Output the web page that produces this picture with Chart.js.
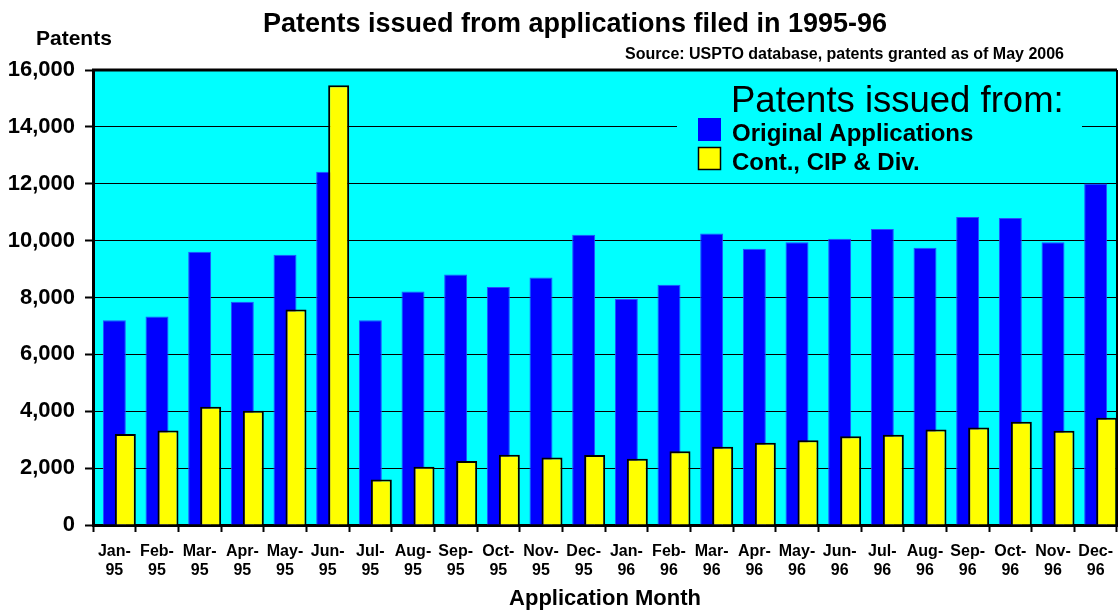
<!DOCTYPE html>
<html>
<head>
<meta charset="utf-8">
<script src="https://cdn.jsdelivr.net/npm/chart.js@4/dist/chart.umd.min.js"></script>
<style>
  html, body { margin: 0; padding: 0; background: #fff; }
  #wrap { width: 1118px; height: 610px; position: relative; }
</style>
</head>
<body>
<div id="wrap"><canvas id="myChart" width="1118" height="610"></canvas></div>
<script>
const months = ['Jan-95', 'Feb-95', 'Mar-95', 'Apr-95', 'May-95', 'Jun-95', 'Jul-95', 'Aug-95',
  'Sep-95', 'Oct-95', 'Nov-95', 'Dec-95', 'Jan-96', 'Feb-96', 'Mar-96', 'Apr-96',
  'May-96', 'Jun-96', 'Jul-96', 'Aug-96', 'Sep-96', 'Oct-96', 'Nov-96', 'Dec-96'];
const originalApps = [7200, 7330, 9610, 7850, 9500, 12420, 7200, 8210, 8810, 8370, 8700, 10210,
  7950, 8450, 10250, 9710, 9940, 10070, 10410, 9750, 10830, 10800, 9940, 12010];
const contCipDiv = [3200, 3320, 4160, 4020, 7580, 15460, 1600, 2050, 2250, 2470, 2370, 2460,
  2330, 2590, 2750, 2890, 2980, 3120, 3170, 3360, 3430, 3630, 3310, 3770];
const yMax = 16000;
const yStep = 2000;

const FONT = '"Liberation Sans", Arial, sans-serif';
const CYAN = '#00ffff';

// cyan plot area + frame
const plotFrame = {
  id: 'plotFrame',
  beforeDraw(chart) {
    const {ctx, chartArea: a} = chart;
    ctx.save();
    ctx.fillStyle = CYAN;
    ctx.fillRect(a.left, a.top, a.right - a.left, a.bottom - a.top);
    ctx.restore();
  },
  afterDraw(chart) {
    const {ctx, chartArea: a} = chart;
    ctx.save();
    ctx.strokeStyle = '#000';
    ctx.lineWidth = 3;
    ctx.beginPath();
    ctx.moveTo(a.left - 1, a.top);
    ctx.lineTo(a.right, a.top);
    ctx.stroke();
    ctx.lineWidth = 2;
    ctx.beginPath();
    ctx.moveTo(a.right, a.top);
    ctx.lineTo(a.right, a.bottom);
    ctx.stroke();
    ctx.restore();
  }
};

// yellow series is drawn after the blue one so it sits in front
const frontBars = {
  id: 'frontBars',
  beforeDatasetDraw(chart, args) {
    if (args.index === 2) return false;
  },
  afterDatasetsDraw(chart) {
    const {ctx, chartArea: a} = chart;
    ctx.save();
    ctx.beginPath();
    ctx.rect(a.left, a.top, a.right - a.left, a.bottom - a.top);
    ctx.clip();
    chart.getDatasetMeta(2).controller.draw();
    ctx.restore();
  }
};

const headerText = {
  id: 'headerText',
  afterDraw(chart) {
    const ctx = chart.ctx;
    ctx.save();
    ctx.fillStyle = '#000';
    ctx.textBaseline = 'alphabetic';
    ctx.font = 'bold 27px ' + FONT;
    ctx.textAlign = 'center';
    ctx.fillText('Patents issued from applications filed in 1995-96', 575, 32);
    ctx.font = 'bold 16px ' + FONT;
    ctx.textAlign = 'right';
    ctx.fillText('Source: USPTO database, patents granted as of May 2006', 1064, 59);
    ctx.font = 'bold 21px ' + FONT;
    ctx.textAlign = 'left';
    ctx.fillText('Patents', 36, 45);
    ctx.restore();
  }
};

const boxLegend = {
  id: 'boxLegend',
  afterDraw(chart) {
    const ctx = chart.ctx;
    const ds = chart.data.datasets;
    ctx.save();
    ctx.fillStyle = CYAN;
    ctx.fillRect(677, 80, 405, 100);
    ctx.fillStyle = '#000';
    ctx.textAlign = 'left';
    ctx.textBaseline = 'alphabetic';
    ctx.font = '36.5px ' + FONT;
    ctx.fillText('Patents issued from:', 731, 112);
    [1, 2].forEach((idx, k) => {
      const y = 118 + k * 29;
      ctx.fillStyle = ds[idx].backgroundColor;
      ctx.fillRect(698, y, 23, 23);
      if (idx === 2) {
        ctx.strokeStyle = '#000';
        ctx.lineWidth = 1.5;
        ctx.strokeRect(698.5, y + 0.5, 22, 22);
      }
      ctx.fillStyle = '#000';
      ctx.font = 'bold 24px ' + FONT;
      ctx.fillText(ds[idx].label, 732, y + 23);
    });
    ctx.restore();
  }
};

document.addEventListener('DOMContentLoaded', function() {
  const ctx = document.getElementById('myChart').getContext('2d');

  new Chart(ctx, {
    type: 'bar',
    data: {
      labels: months,
      datasets: [{
        label: '',
        data: months.map(() => null)
      }, {
        label: 'Original Applications',
        data: originalApps,
        backgroundColor: '#0000ff',
        borderColor: '#2a4bff',
        borderWidth: 1,
        barPercentage: 2.09
      }, {
        label: 'Cont., CIP & Div.',
        data: contCipDiv,
        backgroundColor: '#ffff00',
        borderColor: '#000000',
        borderWidth: 2,
        barPercentage: 1.91
      }]
    },
    options: {
      responsive: false,
      animation: false,
      categoryPercentage: 0.773,
      layout: { padding: { top: 70, right: 1, left: 0, bottom: 0 } },
      plugins: {
        legend: { display: false },
        tooltip: { enabled: false },
        title: { display: false }
      },
      scales: {
        x: {
          offset: true,
          grid: {
            offset: true,
            drawOnChartArea: false,
            drawTicks: true,
            tickLength: 7,
            tickColor: '#000',
            tickWidth: 2
          },
          border: { display: true, color: '#000', width: 3 },
          ticks: {
            color: '#000',
            font: { family: FONT, size: 16, weight: 'bold', lineHeight: 1.2 },
            padding: 10,
            maxRotation: 0,
            autoSkip: false,
            callback: function(value) {
              const parts = months[value].split('-');
              return [parts[0] + '-', parts[1]];
            }
          },
          title: {
            display: true,
            text: 'Application Month',
            color: '#000',
            font: { family: FONT, size: 22, weight: 'bold', lineHeight: 1.2 },
            padding: { top: 0, bottom: -2 }
          },
          afterFit: function(scale) {
            scale.height = 85;
            scale.paddingLeft = 0;
            scale.paddingRight = 0;
          }
        },
        y: {
          min: 0,
          max: yMax,
          ticks: {
            stepSize: yStep,
            color: '#000',
            font: { family: FONT, size: 22, weight: 'bold' },
            padding: 10
          },
          grid: {
            color: '#000',
            lineWidth: 1,
            tickLength: 8,
            tickColor: '#000',
            tickWidth: 2
          },
          border: { display: true, color: '#000', width: 3 },
          afterFit: function(scale) { scale.width = 93; }
        }
      }
    },
    plugins: [plotFrame, frontBars, headerText, boxLegend]
  });
});
</script>
</body>
</html>
